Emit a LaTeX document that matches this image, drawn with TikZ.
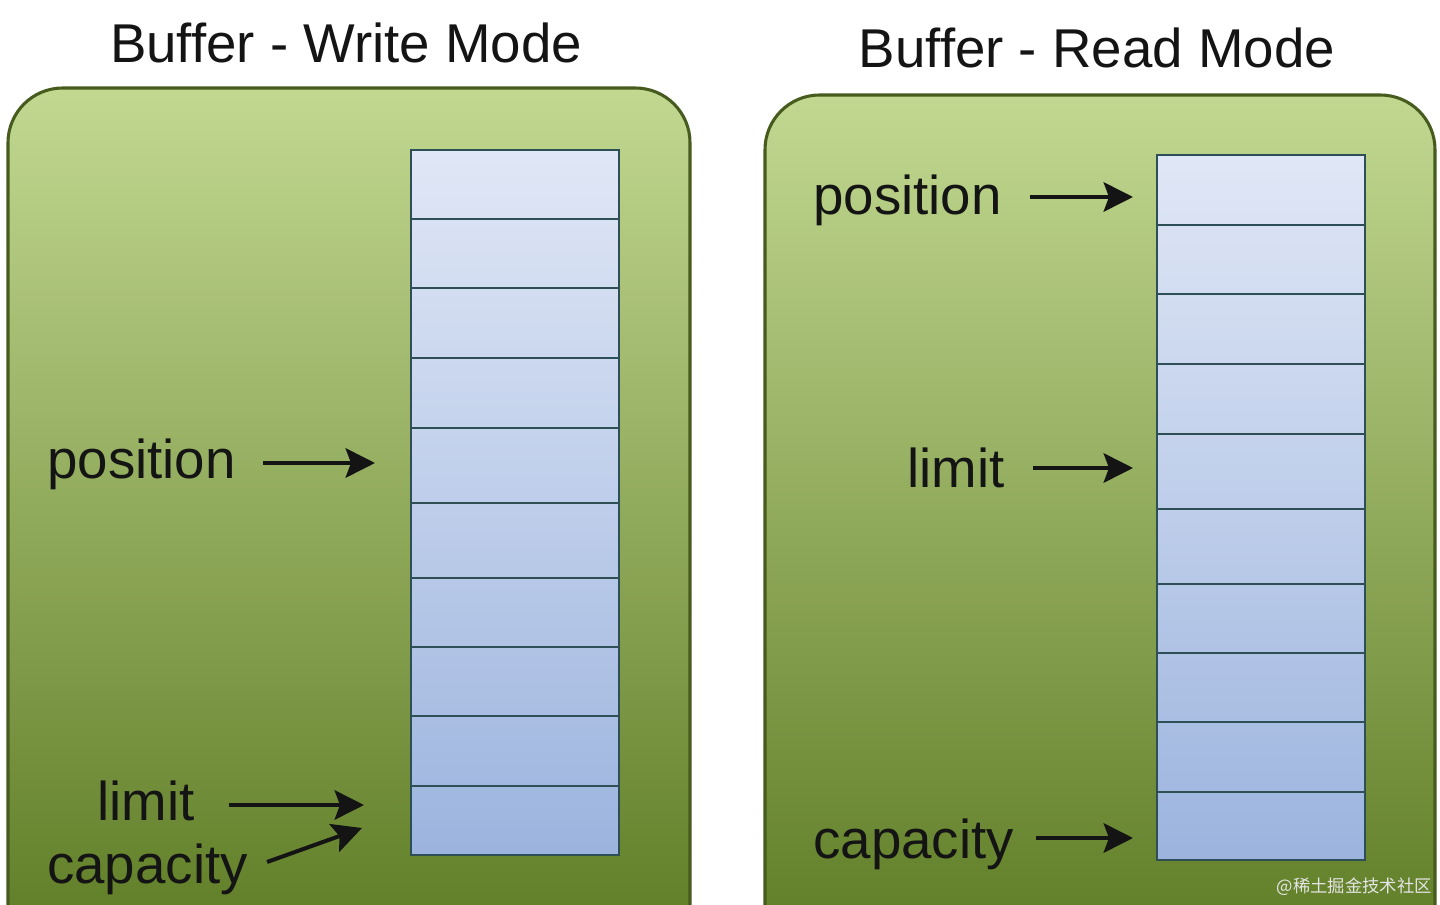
\documentclass[tikz,border=0pt]{standalone}
\usepackage{fontspec}
\setmainfont{Liberation Sans}
\newfontfamily\cjk{Noto Sans CJK SC}
\usetikzlibrary{arrows.meta}
\definecolor{boxline}{HTML}{465B1D}
\definecolor{gtop}{HTML}{C2D891}
\definecolor{gmid}{HTML}{8DAD45}
\definecolor{gbot}{HTML}{5A7821}
\definecolor{ctop}{HTML}{E0E7F6}
\definecolor{cbot}{HTML}{9CB4DE}
\definecolor{cline}{HTML}{2F4F57}
\definecolor{ink}{HTML}{141414}
\tikzset{
  greenbox/.style={top color=gtop, middle color=gmid, bottom color=gbot, draw=boxline, line width=2.3pt, rounded corners=41pt},
  cell/.style={draw=cline, line width=1.8pt, minimum width=156pt, inner sep=0pt},
  lbl/.style={font=\fontsize{41}{48}\selectfont, text=ink, inner sep=0pt, anchor=base west},
  ttl/.style={font=\fontsize{41}{48}\selectfont, text=ink, inner sep=0pt, anchor=base},
  arr/.style={draw=ink, line width=3pt, -{Stealth[length=22pt,width=22pt,inset=4pt]}},
}
\begin{document}
\begin{tikzpicture}[x=0.75pt,y=-0.75pt]
\useasboundingbox (0,0) rectangle (1440,905);
\fill[white] (0,0) rectangle (1440,905);
\begin{scope}
\clip (0,0) rectangle (1440,905);
\shade[greenbox] (8,88) rectangle (690,980);
\shade[greenbox] (765,95) rectangle (1435,985);
\end{scope}

% titles
\node[ttl] (t1) at (346,63) {Buffer - Write Mode};
\node[ttl] (t2) at (1097,68) {Buffer - Read Mode};

% columns
\shade[top color=ctop, bottom color=cbot] (411,150) rectangle (619,855);
\shade[top color=ctop, bottom color=cbot] (1157,155) rectangle (1365,860);
\foreach \i/\a/\b in {1/150/219,2/219/288,3/288/358,4/358/428,5/428/503,6/503/578,7/578/647,8/647/716,9/716/786,10/786/855}
  \node[cell, minimum height={(\b-\a)*0.75pt}] (lc\i) at (515,{(\a+\b)/2}) {};
\foreach \i/\a/\b in {1/155/225,2/225/294,3/294/364,4/364/434,5/434/509,6/509/584,7/584/653,8/653/722,9/722/792,10/792/860}
  \node[cell, minimum height={(\b-\a)*0.75pt}] (rc\i) at (1261,{(\a+\b)/2}) {};

% left labels
\node[lbl] (lpos) at (47,479) {position};
\node[lbl] (llim) at (97,820) {limit};
\node[lbl] (lcap) at (47,883) {capacity};
\coordinate (lposTip) at (375,463);
\coordinate (llimTip) at (364,805);
\coordinate (lcapTip) at (362,828);
\draw[arr] ([shift={(27,-16)}]lpos.base east) -- (lposTip);
\draw[arr] ([shift={(34,-15)}]llim.base east) -- (llimTip);
\draw[arr] ([shift={(19,-21)}]lcap.base east) -- (lcapTip);

% right labels
\node[lbl] (rpos) at (813,215) {position};
\node[lbl] (rlim) at (907,488) {limit};
\node[lbl] (rcap) at (813,858) {capacity};
\coordinate (rposTip) at (1133,197);
\coordinate (rlimTip) at (1133,468);
\coordinate (rcapTip) at (1133,838);
\draw[arr] ([shift={(28,-18)}]rpos.base east) -- (rposTip);
\draw[arr] ([shift={(28,-20)}]rlim.base east) -- (rlimTip);
\draw[arr] ([shift={(22,-20)}]rcap.base east) -- (rcapTip);

% watermark
\node[anchor=east, inner sep=0pt, text=white!80!gray, font=\cjk\fontsize{13}{15}\selectfont] (wm) at (1432,887) {@稀土掘金技术社区};
\end{tikzpicture}
\end{document}
